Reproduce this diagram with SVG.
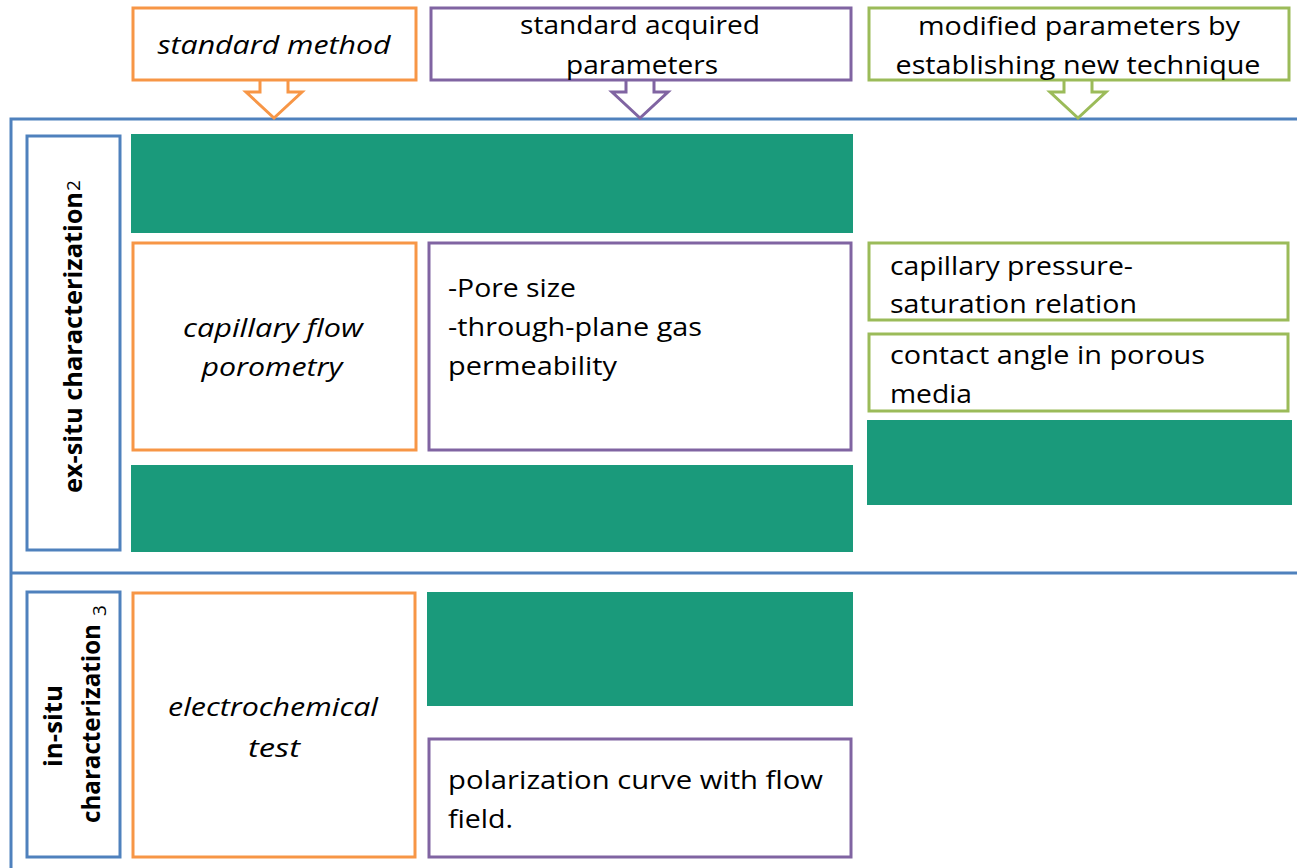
<svg xmlns="http://www.w3.org/2000/svg" width="1297" height="868" viewBox="0 0 1297 868">
<style>
  .box { fill: #ffffff; stroke-width: 3; }
  .org { stroke: #F79646; }
  .pur { stroke: #8064A2; }
  .grn { stroke: #9BBB59; }
  .blu { stroke: #4F81BD; fill: none; stroke-width: 3; }
  .teal { fill: #1A9A7B; }
  .arr { fill: #ffffff; stroke-width: 3; stroke-linejoin: miter; }
  text { font-family: "Open Sans", "Liberation Sans", sans-serif; font-size: 26px; fill: #000000; }
  .it { font-style: italic; }
  .c { text-anchor: middle; }
  .b { font-weight: bold; font-size: 25px; }
</style>

<rect width="1297" height="868" fill="#ffffff"/>

<!-- outer frame -->
<g id="frame">
  <path class="blu" d="M1300 119 H11 V872"/>
  <path class="blu" d="M11 573 H1300"/>
</g>

<!-- connectors: block arrows -->
<g id="connectors">
  <path class="arr org" d="M260 80 V92 H246 L274 118 L302 92 H288 V80"/>
  <path class="arr pur" d="M626 80 V92 H612 L640 118 L668 92 H654 V80"/>
  <path class="arr grn" d="M1064 80 V92 H1050 L1078 118 L1106 92 H1092 V80"/>
</g>

<!-- header nodes -->
<g id="hdr-standard-method">
  <rect class="box org" x="133" y="8" width="283" height="72"/>
  <text class="it c" x="274" y="54" textLength="233" lengthAdjust="spacingAndGlyphs">standard method</text>
</g>
<g id="hdr-standard-params">
  <rect class="box pur" x="431" y="8" width="420" height="72"/>
  <text class="c" x="640" y="34" textLength="240" lengthAdjust="spacingAndGlyphs">standard acquired</text>
  <text class="c" x="642" y="74" textLength="152" lengthAdjust="spacingAndGlyphs">parameters</text>
</g>
<g id="hdr-modified-params">
  <rect class="box grn" x="869" y="8" width="420" height="72"/>
  <text class="c" x="1079" y="35" textLength="322" lengthAdjust="spacingAndGlyphs">modified parameters by</text>
  <text class="c" x="1078" y="74" textLength="365" lengthAdjust="spacingAndGlyphs">establishing new technique</text>
</g>

<!-- ex-situ section -->
<g id="ex-situ-label">
  <rect class="box" style="stroke:#4F81BD" x="27" y="136" width="93" height="414"/>
  <text class="b" transform="translate(82 493) rotate(-90)" textLength="301" lengthAdjust="spacingAndGlyphs">ex-situ characterization</text>
  <text style="font-size:19px" transform="translate(80 191) rotate(-90)">2</text>
</g>
<g id="ex-teal-top"><rect class="teal" x="131" y="134" width="722" height="99"/></g>
<g id="capillary-flow">
  <rect class="box org" x="133" y="243" width="283" height="207"/>
  <text class="it c" x="273" y="337" textLength="180" lengthAdjust="spacingAndGlyphs">capillary flow</text>
  <text class="it c" x="272" y="376" textLength="141" lengthAdjust="spacingAndGlyphs">porometry</text>
</g>
<g id="pore-params">
  <rect class="box pur" x="429" y="243" width="422" height="207"/>
  <text x="448" y="297" textLength="128" lengthAdjust="spacingAndGlyphs">-Pore size</text>
  <text x="448" y="336" textLength="254" lengthAdjust="spacingAndGlyphs">-through-plane gas</text>
  <text x="448" y="375" textLength="169" lengthAdjust="spacingAndGlyphs">permeability</text>
</g>
<g id="ex-teal-bottom"><rect class="teal" x="131" y="465" width="722" height="87"/></g>
<g id="cap-pressure">
  <rect class="box grn" x="869" y="243" width="419" height="77"/>
  <text x="890" y="275" textLength="243" lengthAdjust="spacingAndGlyphs">capillary pressure-</text>
  <text x="890" y="313" textLength="247" lengthAdjust="spacingAndGlyphs">saturation relation</text>
</g>
<g id="contact-angle">
  <rect class="box grn" x="869" y="334" width="419" height="77"/>
  <text x="890" y="364" textLength="315" lengthAdjust="spacingAndGlyphs">contact angle in porous</text>
  <text x="890" y="403" textLength="82" lengthAdjust="spacingAndGlyphs">media</text>
</g>
<g id="ex-teal-right"><rect class="teal" x="867" y="420" width="425" height="85"/></g>

<!-- in-situ section -->
<g id="in-situ-label">
  <rect class="box" style="stroke:#4F81BD" x="27" y="592" width="93" height="265"/>
  <text class="b" transform="translate(62 767) rotate(-90)" textLength="82" lengthAdjust="spacingAndGlyphs">in-situ</text>
  <text class="b" transform="translate(100 823) rotate(-90)" textLength="199" lengthAdjust="spacingAndGlyphs">characterization</text>
  <text style="font-size:19px" transform="translate(106 616) rotate(-90)">3</text>
</g>
<g id="electrochemical">
  <rect class="box org" x="133" y="593" width="282" height="264"/>
  <text class="it c" x="273" y="716" textLength="210" lengthAdjust="spacingAndGlyphs">electrochemical</text>
  <text class="it c" x="274" y="757" textLength="52" lengthAdjust="spacingAndGlyphs">test</text>
</g>
<g id="in-teal"><rect class="teal" x="427" y="592" width="426" height="114"/></g>
<g id="polarization">
  <rect class="box pur" x="429" y="739" width="422" height="118"/>
  <text x="448" y="789" textLength="375" lengthAdjust="spacingAndGlyphs">polarization curve with flow</text>
  <text x="448" y="828" textLength="65" lengthAdjust="spacingAndGlyphs">field.</text>
</g>
</svg>
